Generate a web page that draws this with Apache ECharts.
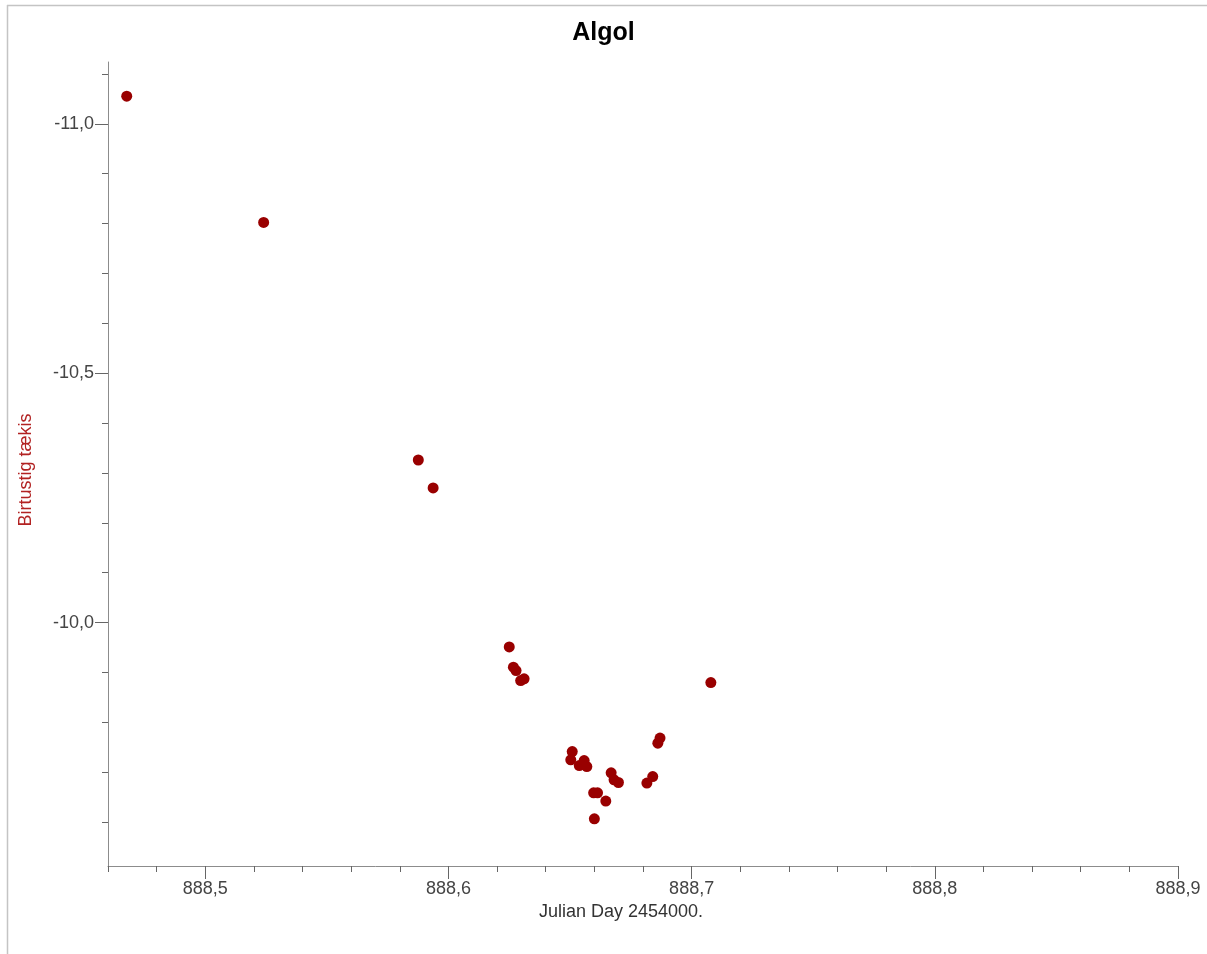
<!DOCTYPE html>
<html>
<head>
<meta charset="utf-8">
<script src="https://cdn.jsdelivr.net/npm/echarts@6/dist/echarts.min.js"></script>
<style>
html,body{margin:0;padding:0;background:#fff;}
#chart{width:1207px;height:954px;}
</style>
</head>
<body>
<div id="chart"></div>
<script>
// Julian Day (minus 2454000) and instrumental magnitude
const jd = [888.4677, 888.5240, 888.5876, 888.5937, 888.6250, 888.6267, 888.6278, 888.6297, 888.6311, 888.7079,
            888.6509, 888.6503, 888.6538, 888.6558, 888.6569, 888.6669, 888.6681, 888.6699, 888.6597, 888.6613,
            888.6647, 888.6600, 888.6816, 888.6840, 888.6861, 888.6870];
const mag = [-11.0555, -10.8024, -10.326, -10.270, -9.9513, -9.9106, -9.9038, -9.8838, -9.8872, -9.8798,
             -9.7415, -9.7249, -9.7134, -9.7234, -9.7114, -9.6988, -9.6848, -9.6794, -9.6587, -9.6587,
             -9.6421, -9.6066, -9.6782, -9.6914, -9.7583, -9.7685];
const xMajorTicks = [888.5, 888.6, 888.7, 888.8, 888.9];
const xMinorTicks = [888.46, 888.48, 888.52, 888.54, 888.56, 888.58, 888.62, 888.64, 888.66, 888.68,
                     888.72, 888.74, 888.76, 888.78, 888.82, 888.84, 888.86, 888.88];
const yMajorTicks = [-11.0, -10.5, -10.0];
const yMinorTicks = [-11.1, -10.9, -10.8, -10.7, -10.6, -10.4, -10.3, -10.2, -10.1, -9.9, -9.8, -9.7, -9.6];

const chart = echarts.init(document.getElementById('chart'));
const FONT = '"Liberation Sans", Arial, sans-serif';
const fmt = v => Number(v).toFixed(1).replace('.', ',');
const AX = '#8c8c8c';
const TICK = '#666666';
const X_MIN = 888.46, X_MAX = 888.9, Y_MIN = -11.124, Y_MAX = -9.512;

chart.setOption({
  backgroundColor: '#ffffff',
  animation: false,
  title: {
    text: 'Algol',
    left: 'center',
    top: 16,
    textStyle: {fontFamily: FONT, fontSize: 25, fontWeight: 'bold', color: '#000'}
  },
  grid: {left: 108, right: 29, top: 62, bottom: 88, outerBoundsMode: 'none', containLabel: false},
  xAxis: [{
    type: 'value', min: X_MIN, max: X_MAX, position: 'bottom',
    name: 'Julian Day 2454000.', nameLocation: 'middle', nameGap: 35,
    nameTextStyle: {fontFamily: FONT, fontSize: 18, color: '#333', padding: [0, 44, 0, 0]},
    axisLine: {show: true, lineStyle: {color: AX, width: 1}},
    axisTick: {show: true, customValues: xMajorTicks, length: 13, lineStyle: {color: TICK}},
    axisLabel: {customValues: xMajorTicks, formatter: fmt, margin: 14, fontFamily: FONT, fontSize: 18, color: '#444'},
    splitLine: {show: false}
  }, {
    type: 'value', min: X_MIN, max: X_MAX, position: 'bottom', gridIndex: 0,
    axisLine: {show: false},
    axisTick: {show: true, customValues: xMinorTicks, length: 6, lineStyle: {color: TICK}},
    axisLabel: {show: false},
    splitLine: {show: false}
  }],
  yAxis: [{
    type: 'value', inverse: true, min: Y_MIN, max: Y_MAX, position: 'left',
    name: 'Birtustig tækis', nameLocation: 'middle', nameGap: 73,
    nameTextStyle: {fontFamily: FONT, fontSize: 18, color: '#b22222', padding: [0, 12, 0, 0]},
    axisLine: {show: true, lineStyle: {color: AX, width: 1}},
    axisTick: {show: true, customValues: yMajorTicks, length: 13, lineStyle: {color: TICK}},
    axisLabel: {customValues: yMajorTicks, formatter: fmt, margin: 14, fontFamily: FONT, fontSize: 18, color: '#444'},
    splitLine: {show: false}
  }, {
    type: 'value', inverse: true, min: Y_MIN, max: Y_MAX, position: 'left', gridIndex: 0,
    axisLine: {show: false},
    axisTick: {show: true, customValues: yMinorTicks, length: 6, lineStyle: {color: TICK}},
    axisLabel: {show: false},
    splitLine: {show: false}
  }],
  graphic: [
    {type: 'line', shape: {x1: 7, y1: 5.5, x2: 1207, y2: 5.5}, style: {stroke: '#c4c4c4', lineWidth: 1.5}, silent: true},
    {type: 'line', shape: {x1: 7.5, y1: 5, x2: 7.5, y2: 954}, style: {stroke: '#c4c4c4', lineWidth: 1.5}, silent: true}
  ],
  series: [{
    type: 'scatter',
    xAxisIndex: 0, yAxisIndex: 0,
    symbol: 'circle', symbolSize: 11,
    itemStyle: {color: '#990000', opacity: 1},
    data: jd.map((x, i) => [x, mag[i]])
  }]
});
</script>
</body>
</html>
